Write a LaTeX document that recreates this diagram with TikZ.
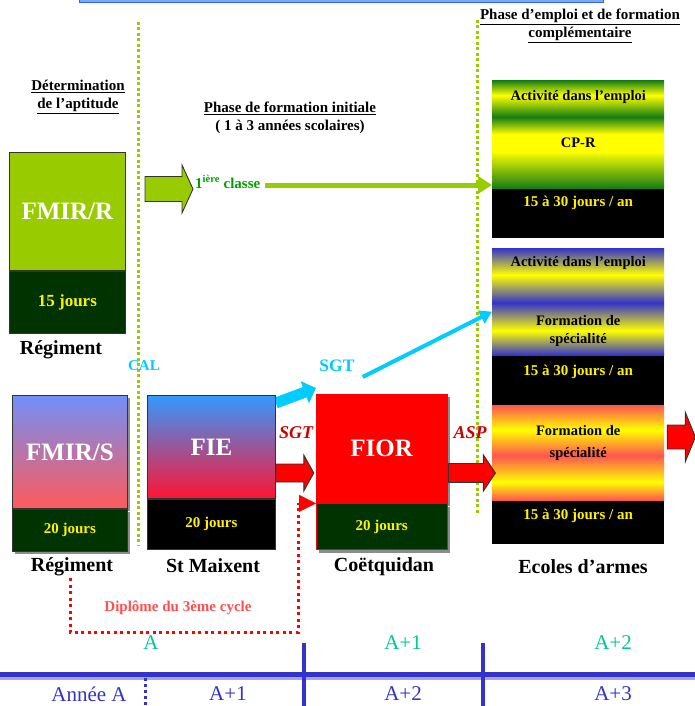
\documentclass[tikz,border=0pt]{standalone}
\usepackage{fontspec}
\setmainfont{Liberation Serif}
\usetikzlibrary{positioning,calc,arrows.meta,shadows,backgrounds}

\definecolor{ygreen}{RGB}{153,204,0}
\definecolor{dgreen}{RGB}{0,51,0}
\definecolor{cgreen}{RGB}{0,160,0}
\definecolor{bgreen}{RGB}{20,125,20}
\definecolor{bblue}{RGB}{51,51,204}
\definecolor{bred}{RGB}{255,85,80}
\definecolor{byellow}{RGB}{255,255,0}
\definecolor{sgtcyan}{RGB}{0,204,255}
\definecolor{sgtred}{RGB}{204,0,0}
\definecolor{tlblue}{RGB}{51,51,204}
\definecolor{tlteal}{RGB}{0,200,150}
\definecolor{diplred}{RGB}{255,80,80}
\definecolor{topblue}{RGB}{51,102,230}
\definecolor{toplight}{RGB}{120,170,255}

% banded shadings of the right-hand boxes (25bp = bottom, 75bp = top)
\pgfdeclareverticalshading{cprshade}{100bp}{color(0bp)=(bgreen); color(25bp)=(bgreen);
  color(42bp)=(byellow); color(50bp)=(byellow); color(58bp)=(bgreen); color(68bp)=(byellow); color(75bp)=(bgreen); color(100bp)=(bgreen)}
\pgfdeclareverticalshading{specshade}{100bp}{color(0bp)=(bblue); color(25bp)=(bblue);
  color(36.5bp)=(byellow); color(49.5bp)=(bblue); color(62.5bp)=(byellow); color(75bp)=(bblue); color(100bp)=(bblue)}
\pgfdeclareverticalshading{armshade}{100bp}{color(0bp)=(bred); color(25bp)=(bred);
  color(34.5bp)=(byellow); color(48.5bp)=(bred); color(62bp)=(byellow); color(75bp)=(bred); color(100bp)=(bred)}

\tikzset{
    >=Stealth,
    lbl/.style={inner sep=0pt, font=\bfseries\fontsize{15}{18}\selectfont},
    hdr/.style={lbl, align=center},
    placelbl/.style={inner sep=0pt, font=\bfseries\fontsize{20}{22}\selectfont},
    boxtop/.style={inner sep=0pt, anchor=north west, text=white, font=\bfseries\fontsize{25}{27}\selectfont},
    boxfoot/.style={inner sep=0pt, anchor=north west, text=yellow, font=\bfseries\fontsize{15}{17}\selectfont},
    boxline/.style={draw=black!80, line width=0.8pt},
    boxshadow/.style={drop shadow={shadow xshift=3pt, shadow yshift=-3pt, fill=black!45, opacity=1}},
    boxtxt/.style={inner sep=0pt, align=center, font=\bfseries\fontsize{14.5}{18}\selectfont},
    dayslbl/.style={inner sep=0pt, text=yellow, font=\bfseries\fontsize{15}{17}\selectfont},
    phaseline/.style={ygreen, line width=3pt, dash pattern=on 3pt off 2.5pt},
    blockgreen/.style={fill=ygreen, draw=black!80, line width=0.9pt},
    blockred/.style={fill=red, draw=black!80, line width=0.9pt},
    greenline/.style={ygreen, line width=5pt, -{Triangle[length=14pt,width=17pt]}},
    cyanline/.style={sgtcyan, line width=4pt, -{Triangle[length=12pt,width=14pt]}},
    dipline/.style={red, line width=3pt, dash pattern=on 3pt off 3.5pt},
    yearlbl/.style={inner sep=0pt, font=\fontsize{21}{23}\selectfont},
}

% block arrow: style, start (middle of tail), length, half shaft, half head, head length
\newcommand{\blockarrow}[6]{%
  \draw[#1] (#2) ++(0,-#4) -- ++(#3-#6,0) -- ++(0,#4-#5) -- ++(#6,#5)
    -- ++(-#6,#5) -- ++(0,#4-#5) -- ++(#6-#3,0) -- cycle;}

\begin{document}
\begin{tikzpicture}[x=1pt,y=-1pt]
    \useasboundingbox (0,0) rectangle (695,706);

    % title box, cut at the top
    \filldraw[draw=topblue, fill=toplight, line width=1pt] (79,-6) rectangle (603,3);

    % phase separators
    \draw[phaseline] (138,22) -- (138,545);
    \draw[phaseline] (477,20) -- (477,515);

    % headers
    \node[hdr] (det) at (78,97) {\underline{Détermination}\\\underline{de l’aptitude}};
    \node[hdr] (phinit) at (290,118) {\underline{Phase de formation initiale}\\( 1 à 3 années scolaires)};
    \node[hdr] (phemp) at (580,26) {\underline{Phase d’emploi et de formation}\\\underline{complémentaire}};

    % right column: phase d'emploi
    \node[boxtop, shade, shading=cprshade, minimum width=172pt, minimum height=108pt] (emp1) at (492,80) {};
    \node[boxfoot, fill=black, minimum width=172pt, minimum height=49pt] (emp1d) at (emp1.south west) {};
    \node[boxtop, shade, shading=specshade, minimum width=172pt, minimum height=107pt] (emp2) at (492,248) {};
    \node[boxfoot, fill=black, minimum width=172pt, minimum height=50pt] (emp2d) at (emp2.south west) {};
    \node[boxtop, shade, shading=armshade, minimum width=172pt, minimum height=95pt] (emp3) at (492,405) {};
    \node[boxfoot, fill=black, minimum width=172pt, minimum height=43pt] (emp3d) at (emp3.south west) {};

    \node[boxtxt] (act1) at ($(emp1.north)+(0,17)$) {Activité dans l’emploi};
    \node[boxtxt] (cpr) at ($(emp1.north)+(0,63)$) {CP-R};
    \node[dayslbl] (j1) at ($(emp1d.north)+(0,14)$) {15 à 30 jours / an};
    \node[boxtxt] (act2) at ($(emp2.north)+(0,15)$) {Activité dans l’emploi};
    \node[boxtxt] (spec2) at ($(emp2.north)+(0,83)$) {Formation de\\spécialité};
    \node[dayslbl] (j2) at ($(emp2d.north)+(0,16)$) {15 à 30 jours / an};
    \node[boxtxt, font=\bfseries\fontsize{14.5}{22}\selectfont] (spec3) at ($(emp3.north)+(0,38)$) {Formation de\\spécialité};
    \node[dayslbl] (j3) at ($(emp3d.north)+(0,15)$) {15 à 30 jours / an};

    % FMIR/R
    \node[boxtop, boxline, fill=ygreen, minimum width=116pt, minimum height=118pt] (fmirr) at (9,152) {FMIR/R};
    \node[boxfoot, boxline, fill=dgreen, minimum width=116pt, minimum height=62pt,
          font=\bfseries\fontsize{17}{19}\selectfont] (fmirrd) at (fmirr.south west) {15 jours};
    \node[placelbl] (regr) at (61,350) {Régiment};

    % 1ere classe
    \coordinate (garr) at (145,189);
    \blockarrow{blockgreen}{garr}{48}{12.5}{24}{11}
    \node[lbl, text=cgreen, anchor=west] (classe) at (195,182) {1\textsuperscript{ière} classe};
    \coordinate (cl) at ($(classe.east)+(4,3)$);
    \draw[greenline] (cl) -- (cl -| emp1.west);

    % FMIR/S
    \node[boxtop, boxline, boxshadow, top color={rgb,255:red,112;green,144;blue,248},
          bottom color={rgb,255:red,255;green,90;blue,90}, minimum width=115pt, minimum height=113pt] (fmirs) at (12,395) {FMIR/S};
    \node[boxfoot, boxline, boxshadow, fill=dgreen, minimum width=115pt, minimum height=42pt] (fmirsd) at (fmirs.south west) {20 jours};
    \node[placelbl] (regs) at (72,567) {Régiment};
    \node[lbl, text=sgtcyan] (cal) at (144,366) {CAL};

    % FIE
    \node[boxtop, boxline, top color={rgb,255:red,51;green,153;blue,255},
          bottom color={rgb,255:red,255;green,20;blue,50}, minimum width=128pt, minimum height=103pt] (fie) at (147,395) {FIE};
    \node[boxfoot, boxline, fill=black, minimum width=128pt, minimum height=50pt] (fied) at (fie.south west) {20 jours};
    \node[placelbl] (stm) at (213,566) {St Maixent};

    % FIOR
    \node[boxtop, boxshadow, draw=red, fill=red, minimum width=131pt, minimum height=109pt] (fior) at (316,394) {FIOR};
    \node[boxfoot, boxshadow, draw=red, fill=dgreen, minimum width=131pt, minimum height=46pt] (fiord) at (fior.south west) {20 jours};
    \node[placelbl] (coet) at (384,567) {Coëtquidan};
    \node[placelbl] (ecoles) at (583,567) {Ecoles d’armes};

    % passages between the schools
    \begin{scope}[on background layer]
        \draw[sgtcyan, line width=11pt, -{Triangle[length=12pt,width=23pt]}]
            ($(fie.north east)+(0,8)$) -- ($(fior.north west)+(0,-6)$);
    \end{scope}
    \node[lbl, text=sgtcyan, font=\bfseries\fontsize{17.5}{20}\selectfont] (sgtc) at (337,366) {SGT};
    \draw[cyanline] ($(sgtc.east)+(8,11)$) -- ($(emp2.west)+(0,10)$);

    \node[lbl, text=sgtred, font=\bfseries\itshape\fontsize{18}{20}\selectfont] (sgtr) at (296,433) {SGT};
    \node[lbl, text=sgtred, font=\bfseries\itshape\fontsize{18}{20}\selectfont] (asp) at (470,433) {ASP};
    \coordinate (sgtarr) at ($(fie.north east)+(0,78)$);
    \blockarrow{blockred}{sgtarr}{38}{9}{18}{10}
    \coordinate (asparr) at ($(fior.north east)+(1,79)$);
    \blockarrow{blockred}{asparr}{47}{9.5}{18}{12}
    \coordinate (outarr) at ($(emp3.north east)+(3,32)$);
    \blockarrow{blockred}{outarr}{28}{12}{24.5}{10}

    % diplome du 3eme cycle
    \coordinate (dipstart) at (70,578);
    \coordinate (dipturn) at (298,632);
    \draw[dipline] (dipstart) |- (dipturn) -- (dipturn |- fior.south west);
    \draw[red, -{Triangle[length=17pt,width=17pt]}] (dipturn |- fior.south west) -- (fior.south west);
    \node[lbl, text=diplred, font=\bfseries\fontsize{15}{17}\selectfont] (dip) at (178,608) {Diplôme du 3ème cycle};

    % time line
    \coordinate (tl0) at (0,674);
    \coordinate (tl1) at (695,674);
    \draw[tlblue!45, line width=3pt] ($(tl0)+(0,4.5)$) -- ($(tl1)+(0,4.5)$);
    \draw[tlblue, line width=5pt] (tl0) -- (tl1);
    \draw[tlblue, line width=4pt] (304,643) -- (304,706);
    \draw[tlblue, line width=4pt] (483,643) -- (483,706);
    \draw[tlblue, line width=3pt, dash pattern=on 3pt off 3pt] (145,678) -- (145,706);

    \node[yearlbl, text=tlteal] (ya) at (151,643) {A};
    \node[yearlbl, text=tlteal] (yb) at (403,643) {A+1};
    \node[yearlbl, text=tlteal] (yc) at (613,643) {A+2};
    \node[yearlbl, text=tlblue] (za) at (89,694) {Année A};
    \node[yearlbl, text=tlblue] (zb) at (228,694) {A+1};
    \node[yearlbl, text=tlblue] (zc) at (403,694) {A+2};
    \node[yearlbl, text=tlblue] (zd) at (613,694) {A+3};
\end{tikzpicture}
\end{document}
